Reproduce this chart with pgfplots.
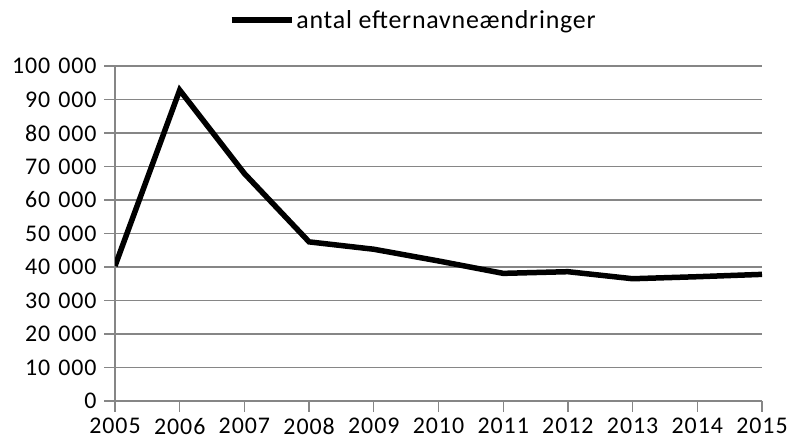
\documentclass[border=0pt]{standalone}
\usepackage{fontspec}
\setmainfont{Carlito}
\newfontfamily\tickfont[LetterSpace=4]{Carlito}
\newfontfamily\legfont[LetterSpace=3]{Carlito}
\usepackage{pgfplots}
\pgfplotsset{compat=1.18}
\definecolor{axgray}{RGB}{134,134,134}
\newcommand{\ts}{\hspace{8bp}}
\begin{document}
\begin{tikzpicture}
\path[use as bounding box] (0,0) rectangle (790bp,442bp);
\begin{axis}[
  at={(115bp,41bp)}, anchor=south west,
  scale only axis, width=647bp, height=335bp,
  xmin=2005, xmax=2015, ymin=0, ymax=100000,
  scaled y ticks=false, scaled x ticks=false,
  xtick={2005,2006,2007,2008,2009,2010,2011,2012,2013,2014,2015},
  xticklabels={2005,2006,2007,2008,2009,2010,2011,2012,2013,2014,2015},
  ytick={0,10000,20000,30000,40000,50000,60000,70000,80000,90000,100000},
  yticklabels={0,10\ts000,20\ts000,30\ts000,40\ts000,50\ts000,60\ts000,70\ts000,80\ts000,90\ts000,100\ts000},
  axis x line*=bottom, axis y line*=left,
  axis line style={axgray, line width=1.3bp, -},
  tick align=outside, major tick length=11bp,
  tick style={axgray, line width=1.3bp},
  ymajorgrids, grid style={axgray, line width=1.3bp},
  tick label style={font=\tickfont\fontsize{24}{28}\selectfont, text=black},
  xticklabel style={yshift=-5bp, inner sep=1bp},
  yticklabel style={xshift=-4bp},
  legend style={at={(0.461,1.137)}, anchor=center, draw=none, fill=none,
    font=\legfont\fontsize{26}{30}\selectfont},
  legend image code/.code={\draw[#1] (0bp,0bp) -- (60bp,0bp);},
]
\addplot[black, line width=5.5bp, line join=miter] coordinates {
  (2005,40300) (2006,92800) (2007,67900) (2008,47500) (2009,45300)
  (2010,41800) (2011,38100) (2012,38600) (2013,36500) (2014,37100) (2015,37800)
};
\addlegendentry{antal efternavneændringer}
\end{axis}
\end{tikzpicture}
\end{document}
